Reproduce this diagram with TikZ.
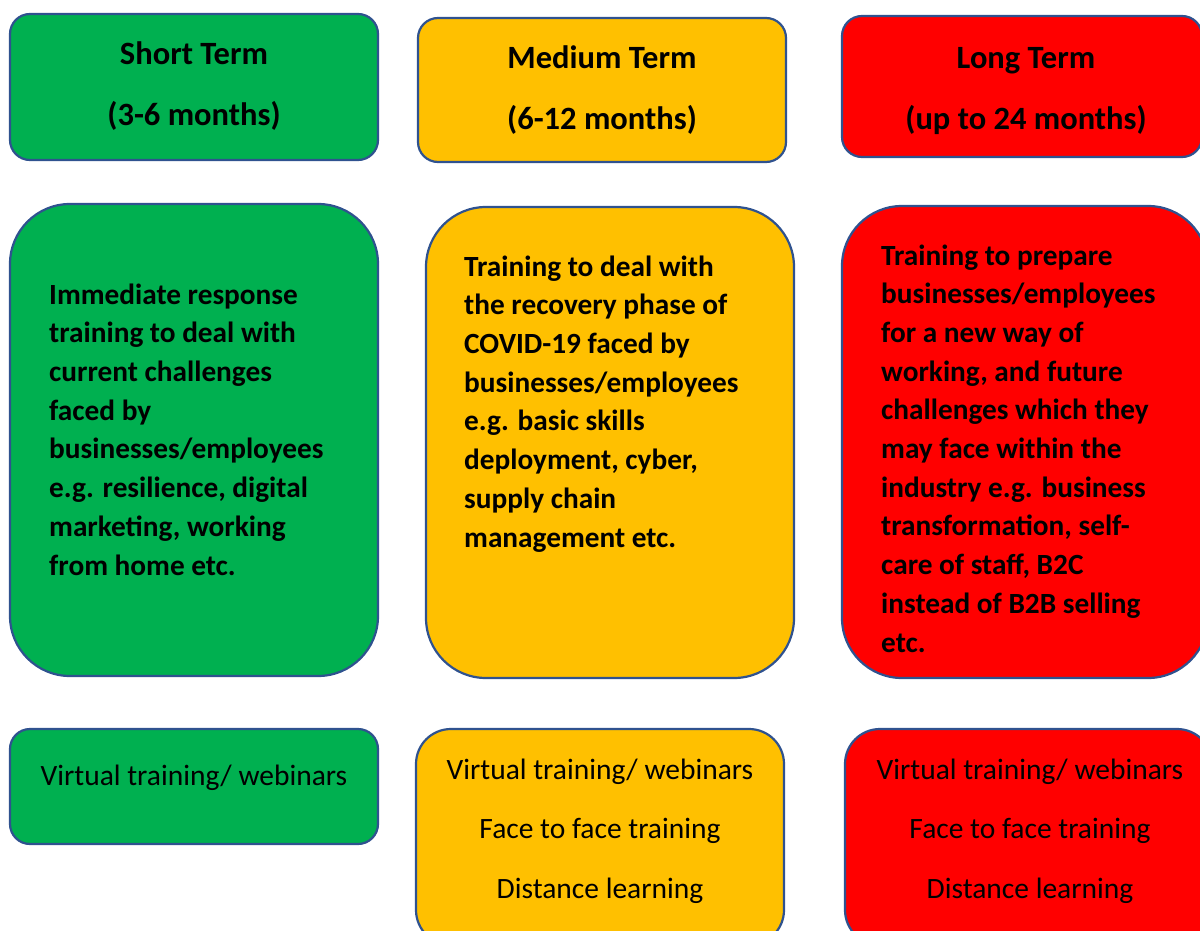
\documentclass[tikz,border=0pt]{standalone}
\usepackage{fontspec}
\setmainfont{Carlito}
\definecolor{termgreen}{HTML}{00B050}
\definecolor{termyellow}{HTML}{FFC000}
\definecolor{termred}{HTML}{FF0000}
\definecolor{edgeblue}{HTML}{2F528F}
\begin{document}
\begin{tikzpicture}[x=1pt,y=-1pt,
  box/.style={draw=edgeblue, line width=2.2pt, inner sep=0pt},
  head/.style={font=\bfseries\fontsize{32.5}{61}\selectfont, align=center, anchor=base, inner sep=0pt},
  body/.style={font=\bfseries\fontsize{29.3}{38.7}\selectfont, align=left, anchor=base west, inner sep=0pt},
  mode/.style={font=\fontsize{29.5}{59.5}\selectfont, align=center, anchor=base, inner sep=0pt}]
\path[use as bounding box, clip] (0,0) rectangle (1200,931);
% term boxes
\node[box, fill=termgreen, rounded corners=20pt, minimum width=368pt, minimum height=146pt] (t1) at (194,87) {};
\node[box, fill=termyellow, rounded corners=20pt, minimum width=368pt, minimum height=144pt] (t2) at (602,90) {};
\node[box, fill=termred, rounded corners=20pt, minimum width=360pt, minimum height=141pt] (t3) at (1022,86.5) {};
% (base anchor = last line)
\node[head] (h1) at (194,126) {Short Term\\(3-6 months)};
\node[head] (h2) at (602,130) {Medium Term\\(6-12 months)};
\node[head] (h3) at (1026,130) {Long Term\\(up to 24 months)};
% description boxes
\node[box, fill=termgreen, rounded corners=60pt, minimum width=368pt, minimum height=472pt] (d1) at (194,440) {};
\node[box, fill=termyellow, rounded corners=60pt, minimum width=368pt, minimum height=471pt] (d2) at (610,442.5) {};
\node[box, fill=termred, rounded corners=60pt, minimum width=366pt, minimum height=472pt] (d3) at (1025,442) {};
\node[body] (b1) at (49,575) {Immediate response\\training to deal with\\current challenges\\faced by\\businesses/employees\\e.g. resilience, digital\\marketing, working\\from home etc.};
\node[body] (b2) at (464,547) {Training to deal with\\the recovery phase of\\COVID-19 faced by\\businesses/employees\\e.g. basic skills\\deployment, cyber,\\supply chain\\management etc.};
\node[body] (b3) at (881,652) {Training to prepare\\businesses/employees\\for a new way of\\working, and future\\challenges which they\\may face within the\\industry e.g. business\\transformation, self-\\care of staff, B2C\\instead of B2B selling\\etc.};
% delivery boxes
\node[box, fill=termgreen, rounded corners=20pt, minimum width=368pt, minimum height=115pt] (m1) at (194,786.5) {};
\node[box, fill=termyellow, rounded corners=35pt, minimum width=368pt, minimum height=216pt] (m2) at (600,837) {};
\node[box, fill=termred, rounded corners=35pt, minimum width=367pt, minimum height=216pt] (m3) at (1028.5,837) {};
\node[mode] (w1) at (194,785) {Virtual training/ webinars};
\node[mode] (w2) at (600,898) {Virtual training/ webinars\\Face to face training\\Distance learning};
\node[mode] (w3) at (1030,898) {Virtual training/ webinars\\Face to face training\\Distance learning};
\end{tikzpicture}
\end{document}
